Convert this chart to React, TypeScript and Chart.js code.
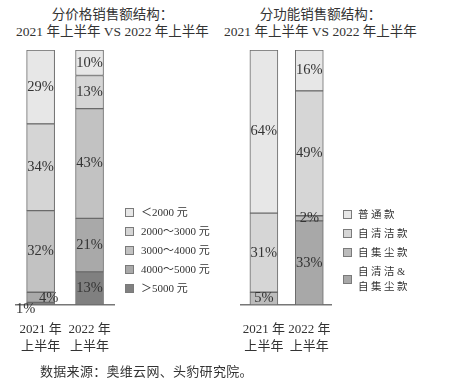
import React, { useEffect, useRef } from "react";
import { Chart, registerables } from "chart.js";

Chart.register(...registerables);

// ---------- data ----------
const categories = [["2021 年", "上半年"], ["2022 年", "上半年"]];

// price structure (stack bottom -> top)
const priceSeries = ["＞5000 元", "4000～5000 元", "3000～4000 元", "2000～3000 元", "＜2000 元"];
const priceOver5000 = [1, 13];
const price4000to5000 = [4, 21];
const price3000to4000 = [32, 43];
const price2000to3000 = [34, 13];
const priceUnder2000 = [29, 10];
const priceColors = ["#808080", "#a9a9a9", "#c2c2c2", "#d5d5d5", "#e7e7e7"];

// function structure (stack bottom -> top)
const funcSeries = ["自清洁&\n自集尘款", "自集尘款", "自清洁款", "普通款"];
const funcBoth = [0, 33];
const funcDust = [5, 2];
const funcClean = [31, 49];
const funcNormal = [64, 16];
const funcColors = ["#a8a8a8", "#bcbcbc", "#d6d6d6", "#e7e7e7"];

const SERIF = '"Liberation Serif", "DejaVu Serif", "Noto Sans CJK SC", serif';
const CJK = '"Liberation Serif", "Noto Sans CJK SC", serif';

type LabelOffset = { [key: string]: [number, number] };

function makeLabelPlugin(offsets: LabelOffset) {
  return {
    id: "segLabels",
    afterDatasetsDraw(chart: any) {
      const ctx = chart.ctx;
      ctx.save();
      ctx.font = `14.5px ${SERIF}`;
      ctx.fillStyle = "#333";
      ctx.textAlign = "center";
      ctx.textBaseline = "middle";
      chart.data.datasets.forEach((ds: any, di: number) => {
        const meta = chart.getDatasetMeta(di);
        meta.data.forEach((el: any, i: number) => {
          const v = ds.data[i];
          if (!v) return;
          const off = offsets[`${di}-${i}`] || [0, 0];
          ctx.fillText(`${v}%`, el.x + off[0], (el.y + el.base) / 2 + off[1]);
        });
      });
      ctx.restore();
    },
  };
}

function BarChart(props: {
  series: string[];
  values: number[][];
  colors: string[];
  padLeft: number;
  padRight: number;
  offsets: LabelOffset;
}) {
  const ref = useRef<HTMLCanvasElement>(null);
  useEffect(() => {
    if (!ref.current) return;
    const chart = new Chart(ref.current, {
      type: "bar",
      data: {
        labels: categories,
        datasets: props.series.map((s, i) => ({
          label: s,
          data: props.values[i],
          backgroundColor: props.colors[i],
          borderColor: "#6a6a6a",
          borderWidth: 1,
          borderSkipped: false,
          barThickness: 28,
        })),
      },
      options: {
        animation: false,
        responsive: false,
        events: [],
        layout: { padding: { left: props.padLeft, right: props.padRight, top: 10, bottom: 10 } },
        plugins: { legend: { display: false }, tooltip: { enabled: false }, title: { display: false } },
        scales: {
          x: {
            stacked: true,
            grid: { display: false, drawTicks: false },
            border: { display: true, color: "#777", width: 1.5 },
            ticks: {
              padding: 16,
              color: "#333",
              font: { family: CJK, size: 13, lineHeight: 1.3 },
              maxRotation: 0,
            },
            afterFit: (scale: any) => {
              scale.height = 55;
            },
          },
          y: { stacked: true, display: false, min: 0, max: 100 },
        },
      },
      plugins: [makeLabelPlugin(props.offsets)],
    });
    return () => chart.destroy();
  }, []);
  return <canvas ref={ref} width={225} height={330} />;
}

const titleStyle: React.CSSProperties = {
  position: "absolute",
  top: 6,
  width: 225,
  textAlign: "center",
  fontFamily: CJK,
  fontSize: 13.5,
  lineHeight: "17px",
  color: "#333",
};

function Legend(props: {
  left: number;
  top: number;
  items: string[];
  colors: string[];
  rowH: number[];
  fontSize: number;
  spacing: number;
  gap: number;
}) {
  let y = props.top;
  return (
    <div style={{ position: "absolute", left: props.left, top: 0 }}>
      {props.items.map((it, i) => {
        const lines = it.split("\n");
        const h = props.rowH[i];
        const el = (
          <div key={i} style={{ position: "absolute", top: y, left: 0, height: h, display: "flex", alignItems: "center", whiteSpace: "nowrap" }}>
            <div style={{ width: 7, height: 7, background: props.colors[i], border: "1px solid #7a7a7a", marginRight: props.gap }} />
            <div style={{ fontFamily: CJK, fontSize: props.fontSize, lineHeight: "15px", color: "#333", letterSpacing: props.spacing }}>
              {lines.map((l, j) => (
                <div key={j}>{l}</div>
              ))}
            </div>
          </div>
        );
        y += h;
        return el;
      })}
    </div>
  );
}

export default function App() {
  const priceVals = [priceOver5000, price4000to5000, price3000to4000, price2000to3000, priceUnder2000];
  const funcVals = [funcBoth, funcDust, funcClean, funcNormal];
  const priceLegend = [...priceSeries].reverse();
  const priceLegendColors = [...priceColors].reverse();
  const funcLegend = [...funcSeries].reverse();
  const funcLegendColors = [...funcColors].reverse();
  return (
    <div style={{ position: "fixed", left: 0, top: 0, width: 450, height: 387, background: "#fff", overflow: "hidden" }}>
      <div style={{ ...titleStyle, left: 0 }}>
        <div>分价格销售额结构：</div>
        <div>2021 年上半年 VS 2022 年上半年</div>
      </div>
      <div style={{ ...titleStyle, left: 208 }}>
        <div>分功能销售额结构：</div>
        <div>2021 年上半年 VS 2022 年上半年</div>
      </div>
      <div style={{ position: "absolute", left: 0, top: 40 }}>
        <BarChart series={priceSeries} values={priceVals} colors={priceColors} padLeft={14} padRight={111}
          offsets={{ "0-0": [-15, 5], "1-0": [8, 1] }} />
      </div>
      <div style={{ position: "absolute", left: 225, top: 40 }}>
        <BarChart series={funcSeries} values={funcVals} colors={funcColors} padLeft={7} padRight={118}
          offsets={{}} />
      </div>
      <Legend left={125} top={203} items={priceLegend} colors={priceLegendColors} rowH={[19, 19, 19, 19, 19]}
        fontSize={11} spacing={0} gap={7} />
      <Legend left={343} top={205} items={funcLegend} colors={funcLegendColors} rowH={[19, 19, 19, 34]}
        fontSize={10.5} spacing={2.5} gap={6} />
      <div style={{ position: "absolute", left: 40, top: 361, fontFamily: CJK, fontSize: 13, color: "#333", letterSpacing: 0.3, whiteSpace: "nowrap" }}>
        数据来源：奥维云网、头豹研究院。
      </div>
    </div>
  );
}
